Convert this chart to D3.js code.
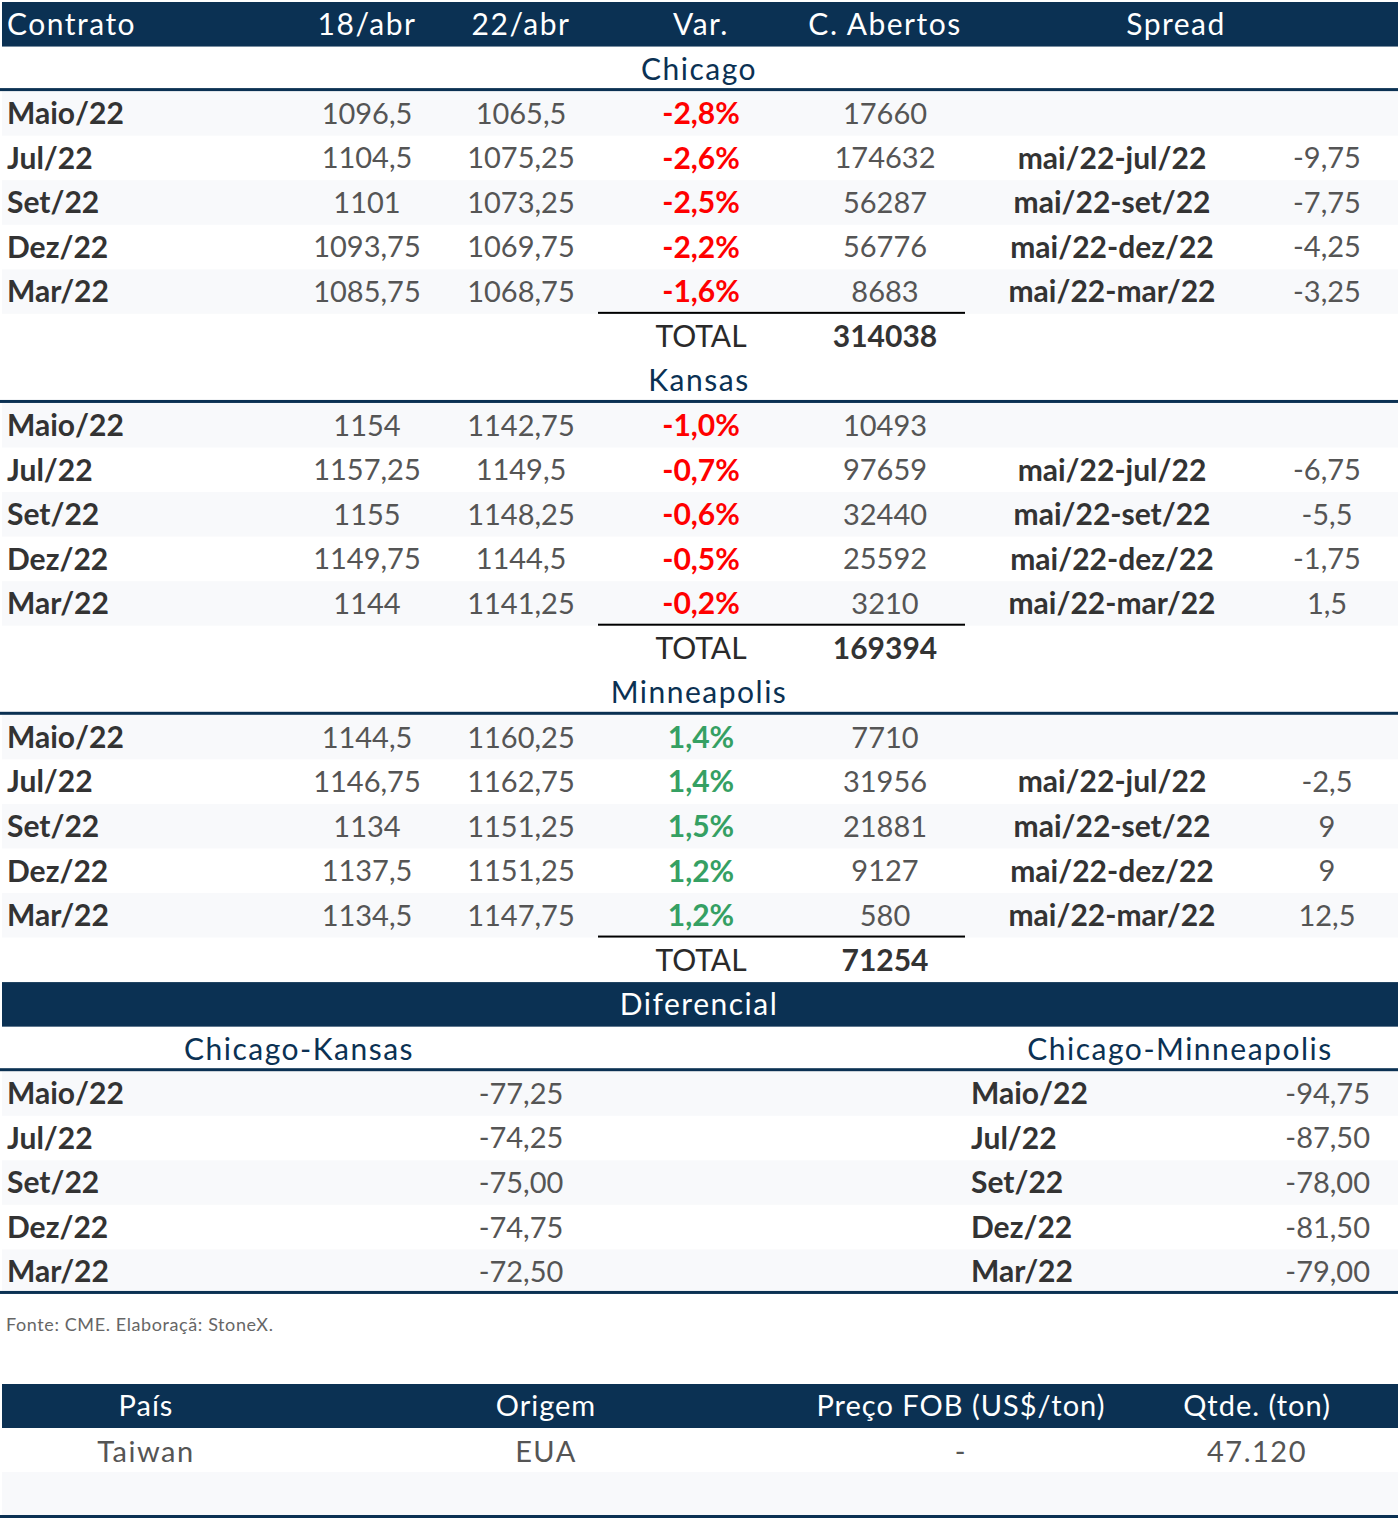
<!DOCTYPE html>
<html>
<head>
<meta charset="utf-8">
<script src="https://cdn.jsdelivr.net/npm/d3@7"></script>
<style>
  body { margin: 0; background: #fff; }
  svg { display: block; font-family: Lato, "Open Sans", sans-serif; }
</style>
</head>
<body>
<svg id="chart" width="1398" height="1520"></svg>
<script>
// ---- data ----
var headers = ["Contrato", "18/abr", "22/abr", "Var.", "C. Abertos", "Spread"];
var contracts = ["Maio/22", "Jul/22", "Set/22", "Dez/22", "Mar/22"];
var spreadNames = ["", "mai/22-jul/22", "mai/22-set/22", "mai/22-dez/22", "mai/22-mar/22"];

var chicagoPrev = [1096.5, 1104.5, 1101, 1093.75, 1085.75];
var chicagoLast = [1065.5, 1075.25, 1073.25, 1069.75, 1068.75];
var chicagoVar = [-2.8, -2.6, -2.5, -2.2, -1.6];
var chicagoOI = [17660, 174632, 56287, 56776, 8683];
var chicagoSpread = [null, -9.75, -7.75, -4.25, -3.25];
var chicagoTotal = 314038;

var kansasPrev = [1154, 1157.25, 1155, 1149.75, 1144];
var kansasLast = [1142.75, 1149.5, 1148.25, 1144.5, 1141.25];
var kansasVar = [-1.0, -0.7, -0.6, -0.5, -0.2];
var kansasOI = [10493, 97659, 32440, 25592, 3210];
var kansasSpread = [null, -6.75, -5.5, -1.75, 1.5];
var kansasTotal = 169394;

var minnPrev = [1144.5, 1146.75, 1134, 1137.5, 1134.5];
var minnLast = [1160.25, 1162.75, 1151.25, 1151.25, 1147.75];
var minnVar = [1.4, 1.4, 1.5, 1.2, 1.2];
var minnOI = [7710, 31956, 21881, 9127, 580];
var minnSpread = [null, -2.5, 9, 9, 12.5];
var minnTotal = 71254;

var diffChiKan = [-77.25, -74.25, -75.00, -74.75, -72.50];
var diffChiMin = [-94.75, -87.50, -78.00, -81.50, -79.00];

var exportHeaders = ["País", "Origem", "Preço FOB (US$/ton)", "Qtde. (ton)"];
var exportCountry = ["Taiwan"];
var exportOrigin = ["EUA"];
var exportPrice = [null];
var exportQty = [47120];

var source = "Fonte: CME. Elaboraçã: StoneX.";

// ---- setup ----
var W = 1398;
var navy = "#0b3153", red = "#ff0000", green = "#35a063", band = "#f8f9fb";
var dark = "#333333", grey = "#555555";

var locale = d3.formatLocale({decimal: ",", thousands: ".", grouping: [3], currency: ["", ""], minus: "-"});
var fmtPrice = locale.format(".2~f");
var fmtPct = function(v) { return locale.format(".1f")(v) + "%"; };
var fmtInt = locale.format("d");
var fmtDiff = locale.format(".2f");
var fmtQty = locale.format(",d");

var svg = d3.select("#chart");

// rows are evenly spaced
var rowH = 44.55;
var y = d3.scaleLinear().domain([0, 29]).range([2, 2 + 29 * rowH]);

// column centres
var col = {label: 7, prev: 367, last: 521, vr: 701, oi: 885, spread: 1176, sname: 1112, sval: 1327, mid: 699};

function bar(r, fill) {
  svg.append("rect").attr("x", 2).attr("y", y(r)).attr("width", W - 2).attr("height", y(r + 1) - y(r)).attr("fill", fill);
}
function rule(r, x0, x1, color, w) {
  svg.append("rect").attr("x", x0).attr("y", y(r) - w).attr("width", x1 - x0).attr("height", w).attr("fill", color);
}
function txt(x, r, s, opt) {
  opt = opt || {};
  return svg.append("text")
    .attr("x", x).attr("y", (y(r) + y(r + 1)) / 2).attr("dy", "0.36em")
    .attr("text-anchor", opt.anchor || "middle")
    .attr("font-size", opt.size || 29)
    .attr("font-weight", opt.weight || 400)
    .attr("letter-spacing", opt.ls || 0)
    .attr("fill", opt.fill || grey)
    .text(s);
}
var titleStyle = {size: 30, ls: 1.5, fill: navy};
var headStyle = {size: 30, ls: 1.5, fill: "#fff"};

// ---- header ----
bar(0, navy);
var headX = [col.label, col.prev, col.last, col.vr, col.oi, col.spread];
headers.forEach(function(h, i) {
  txt(headX[i], 0, h, Object.assign({}, headStyle, {anchor: i === 0 ? "start" : "middle"}));
});

// ---- market sections ----
var markets = [
  {name: "Chicago", start: 1, prev: chicagoPrev, last: chicagoLast, vr: chicagoVar, oi: chicagoOI, spread: chicagoSpread, total: chicagoTotal},
  {name: "Kansas", start: 8, prev: kansasPrev, last: kansasLast, vr: kansasVar, oi: kansasOI, spread: kansasSpread, total: kansasTotal},
  {name: "Minneapolis", start: 15, prev: minnPrev, last: minnLast, vr: minnVar, oi: minnOI, spread: minnSpread, total: minnTotal}
];

markets.forEach(function(m) {
  txt(col.mid, m.start, m.name, titleStyle);
  contracts.forEach(function(c, i) {
    var r = m.start + 1 + i;
    if (i % 2 === 0) bar(r, band);
    txt(col.label, r, c, {anchor: "start", size: 30, weight: 700, fill: dark});
    txt(col.prev, r, fmtPrice(m.prev[i]));
    txt(col.last, r, fmtPrice(m.last[i]));
    txt(col.vr, r, fmtPct(m.vr[i]), {size: 30, weight: 700, fill: m.vr[i] < 0 ? red : green});
    txt(col.oi, r, fmtInt(m.oi[i]));
    if (m.spread[i] !== null) {
      txt(col.sname, r, spreadNames[i], {size: 30, weight: 700, fill: dark});
      txt(col.sval, r, fmtPrice(m.spread[i]));
    }
  });
  rule(m.start + 1, 0, W, navy, 3);
  rule(m.start + 6, 598, 965, "#000", 2);
  txt(col.vr, m.start + 6, "TOTAL", {size: 30, fill: "#2a2a2a"});
  txt(col.oi, m.start + 6, fmtInt(m.total), {size: 30, weight: 700, fill: dark});
});

// ---- differential ----
bar(22, navy);
txt(col.mid, 22, "Diferencial", headStyle);
txt(299, 23, "Chicago-Kansas", titleStyle);
txt(1180, 23, "Chicago-Minneapolis", titleStyle);
contracts.forEach(function(c, i) {
  var r = 24 + i;
  if (i % 2 === 0) bar(r, band);
  txt(col.label, r, c, {anchor: "start", size: 30, weight: 700, fill: dark});
  txt(col.last, r, fmtDiff(diffChiKan[i]));
  txt(971, r, c, {anchor: "start", size: 30, weight: 700, fill: dark});
  txt(1370, r, fmtDiff(diffChiMin[i]), {anchor: "end"});
});
rule(24, 0, W, navy, 3);
rule(29, 0, W, navy, 3);

svg.append("text").attr("x", 6).attr("y", 1331)
  .attr("font-size", 18).attr("letter-spacing", 0.6).attr("fill", "#666").text(source);

// ---- export table ----
var yb = d3.scaleLinear().domain([0, 3]).range([1384, 1384 + 3 * 44]);
var exportX = [146, 546, 961, 1257];
svg.append("rect").attr("x", 2).attr("y", yb(0)).attr("width", W - 2).attr("height", yb(1) - yb(0)).attr("fill", navy);
svg.append("rect").attr("x", 2).attr("y", yb(2)).attr("width", W - 2).attr("height", yb(3) - yb(2) - 1).attr("fill", band);
svg.append("rect").attr("x", 0).attr("y", yb(3) - 1).attr("width", W).attr("height", 3).attr("fill", navy);

function btxt(x, r, s, opt) {
  svg.append("text")
    .attr("x", x).attr("y", (yb(r) + yb(r + 1)) / 2 + (opt.dy || 0)).attr("dy", "0.36em")
    .attr("text-anchor", "middle").attr("font-size", 29)
    .attr("letter-spacing", opt.ls).attr("fill", opt.fill).text(s);
}
exportHeaders.forEach(function(h, i) { btxt(exportX[i], 0, h, {ls: 1, fill: "#fff"}); });
exportCountry.forEach(function(c, i) {
  btxt(exportX[0], 1 + i, c, {ls: 1.5, fill: grey, dy: 2});
  btxt(exportX[1], 1 + i, exportOrigin[i], {ls: 1.5, fill: grey, dy: 2});
  btxt(exportX[2], 1 + i, exportPrice[i] === null ? "-" : fmtPrice(exportPrice[i]), {ls: 1.5, fill: grey, dy: 2});
  btxt(exportX[3], 1 + i, fmtQty(exportQty[i]), {ls: 1.5, fill: grey, dy: 2});
});
</script>
</body>
</html>
